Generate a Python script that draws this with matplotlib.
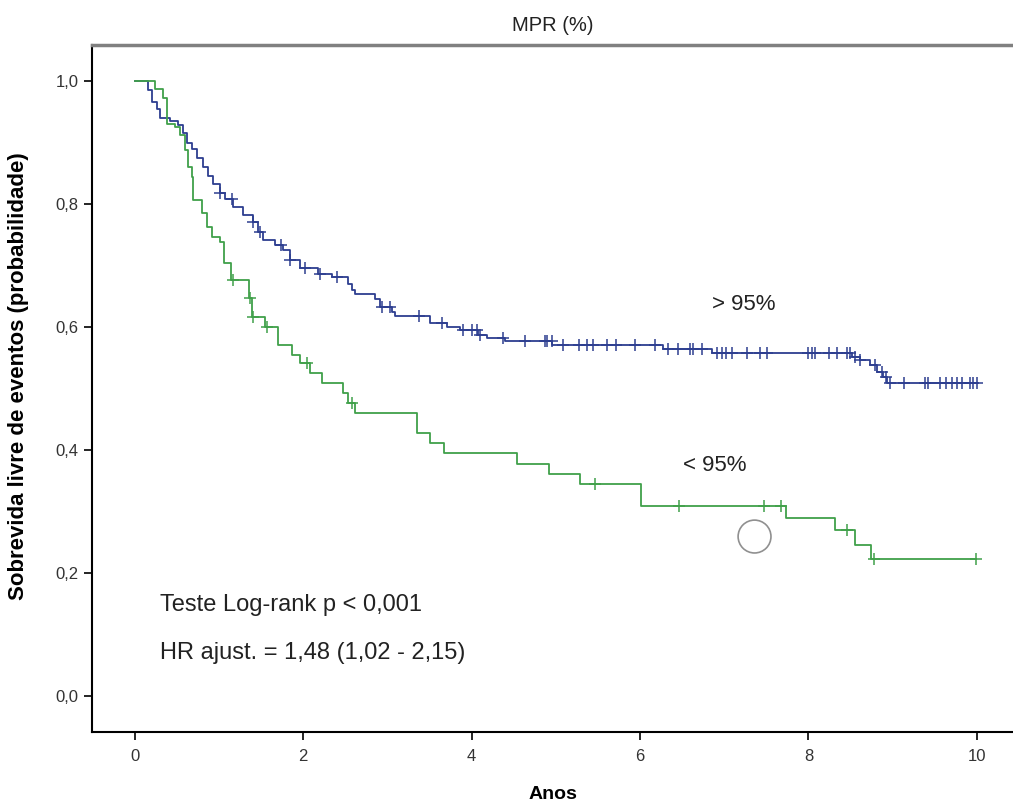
import numpy as np
import matplotlib
matplotlib.use("Agg")
import matplotlib.pyplot as plt

plt.rcParams['font.family'] = ['Liberation Sans', 'DejaVu Sans']

# > 95% : drop times (years) and survival after each drop
alto_t = [0.15, 0.20, 0.26, 0.30, 0.42, 0.51, 0.57, 0.62, 0.68, 0.74, 0.81, 0.87,
          0.93, 1.01, 1.07, 1.16, 1.28, 1.40, 1.46, 1.52, 1.66, 1.76, 1.84, 1.96,
          2.17, 2.34, 2.53, 2.58, 2.61, 2.85, 2.91, 3.05, 3.09, 3.50, 3.71, 3.86,
          4.07, 4.18, 4.39, 4.96, 6.27, 6.86, 8.52, 8.61, 8.73, 8.81, 8.88, 8.93]
alto_s = [0.985, 0.966, 0.955, 0.940, 0.935, 0.928, 0.915, 0.900, 0.890, 0.875, 0.860, 0.845,
          0.832, 0.818, 0.808, 0.795, 0.782, 0.770, 0.755, 0.741, 0.733, 0.725, 0.709, 0.696,
          0.686, 0.681, 0.670, 0.660, 0.654, 0.645, 0.633, 0.625, 0.617, 0.606, 0.600, 0.595,
          0.587, 0.582, 0.577, 0.571, 0.564, 0.558, 0.551, 0.546, 0.538, 0.527, 0.519, 0.509]
alto_cens = [1.01, 1.15, 1.40, 1.48, 1.74, 1.84, 2.02, 2.20, 2.40, 2.93, 3.03, 3.38,
             3.65, 3.90, 4.00, 4.06, 4.10, 4.37, 4.63, 4.87, 4.90, 4.95, 5.08, 5.28,
             5.37, 5.44, 5.61, 5.72, 5.94, 6.18, 6.33, 6.45, 6.59, 6.63, 6.73, 6.92,
             6.97, 7.02, 7.09, 7.27, 7.42, 7.51, 7.99, 8.04, 8.08, 8.24, 8.34, 8.46,
             8.49, 8.55, 8.61, 8.79, 8.87, 8.92, 8.97, 9.14, 9.38, 9.42, 9.56, 9.64,
             9.70, 9.76, 9.82, 9.92, 9.95, 10.0]

# < 95%
baixo_t = [0.24, 0.33, 0.38, 0.48, 0.53, 0.59, 0.63, 0.68, 0.69, 0.80, 0.86, 0.91,
           1.01, 1.06, 1.14, 1.35, 1.39, 1.54, 1.70, 1.86, 1.96, 2.08, 2.22, 2.47,
           2.53, 2.61, 3.35, 3.50, 3.67, 4.54, 4.92, 5.29, 6.01, 7.73, 8.31, 8.55, 8.74]
baixo_s = [0.987, 0.972, 0.930, 0.925, 0.912, 0.888, 0.860, 0.844, 0.806, 0.785, 0.763, 0.746,
           0.738, 0.704, 0.676, 0.647, 0.616, 0.600, 0.571, 0.554, 0.541, 0.525, 0.509, 0.493,
           0.476, 0.460, 0.427, 0.411, 0.395, 0.377, 0.361, 0.345, 0.309, 0.289, 0.269, 0.245, 0.223]
baixo_cens = [1.16, 1.37, 1.40, 1.57, 2.04, 2.58, 5.46, 6.46, 7.47, 7.67, 8.46, 8.78, 9.99]

# stray hollow circle in the original
circ_x = [7.36]
circ_y = [0.259]

azul = '#2d3e90'
verde = '#40a04a'


def curva(t, s, t_end):
    x = np.concatenate([[0.0], t, [t_end]])
    y = np.concatenate([[1.0], s, [s[-1]]])
    return x, y


def surv_at(t, s, tc):
    idx = np.searchsorted(np.array(t), np.array(tc), side='right')
    vals = np.concatenate([[1.0], s])
    return vals[idx]


fig = plt.figure(figsize=(10.13, 8.06), dpi=100)
ax = fig.add_axes([0.0908, 0.0918, 0.9092, 0.8526])

for t, s, cens, cor in [(alto_t, alto_s, alto_cens, azul),
                        (baixo_t, baixo_s, baixo_cens, verde)]:
    x, y = curva(t, s, max(cens))
    ax.step(x, y, where='post', color=cor, lw=1.3)
    ax.plot(cens, surv_at(t, s, cens), '+', color=cor, ms=9, mew=1.1)

ax.scatter(circ_x, circ_y, s=560, facecolors='none', edgecolors='#909090', lw=1.2)

ax.text(6.86, 0.636, '> 95%', fontsize=16, va='center', ha='left', color='#222222')
ax.text(6.51, 0.374, '< 95%', fontsize=16, va='center', ha='left', color='#222222')
ax.text(0.30, 0.148, 'Teste Log-rank p < 0,001', fontsize=17, va='center', ha='left',
        color='#222222')
ax.text(0.30, 0.070, 'HR ajust. = 1,48 (1,02 - 2,15)', fontsize=17, va='center', ha='left',
        color='#222222')

ax.set_xlim(-0.51, 10.43)
ax.set_ylim(-0.059, 1.059)
ax.set_xticks([0, 2, 4, 6, 8, 10])
ax.set_yticks([0.0, 0.2, 0.4, 0.6, 0.8, 1.0])
ax.set_yticklabels(['0,0', '0,2', '0,4', '0,6', '0,8', '1,0'])
ax.tick_params(axis='both', direction='out', length=6, width=1.2, labelsize=12,
               colors='black', labelcolor='#333333')
ax.tick_params(axis='x', pad=6)

ax.spines['right'].set_visible(False)
ax.spines['top'].set_color('#808080')
ax.spines['top'].set_linewidth(2.5)
ax.spines['left'].set_linewidth(1.5)
ax.spines['bottom'].set_linewidth(1.5)

ax.set_title('MPR (%)', fontsize=14.5, pad=10, color='#222222')
ax.set_xlabel('Anos', fontsize=14, fontweight='bold', labelpad=16)
ax.set_ylabel('Sobrevida livre de eventos (probabilidade)', fontsize=16,
              fontweight='bold')
ax.yaxis.set_label_coords(-0.068, 0.518)

fig.savefig('out.png', dpi=100, facecolor='white')
